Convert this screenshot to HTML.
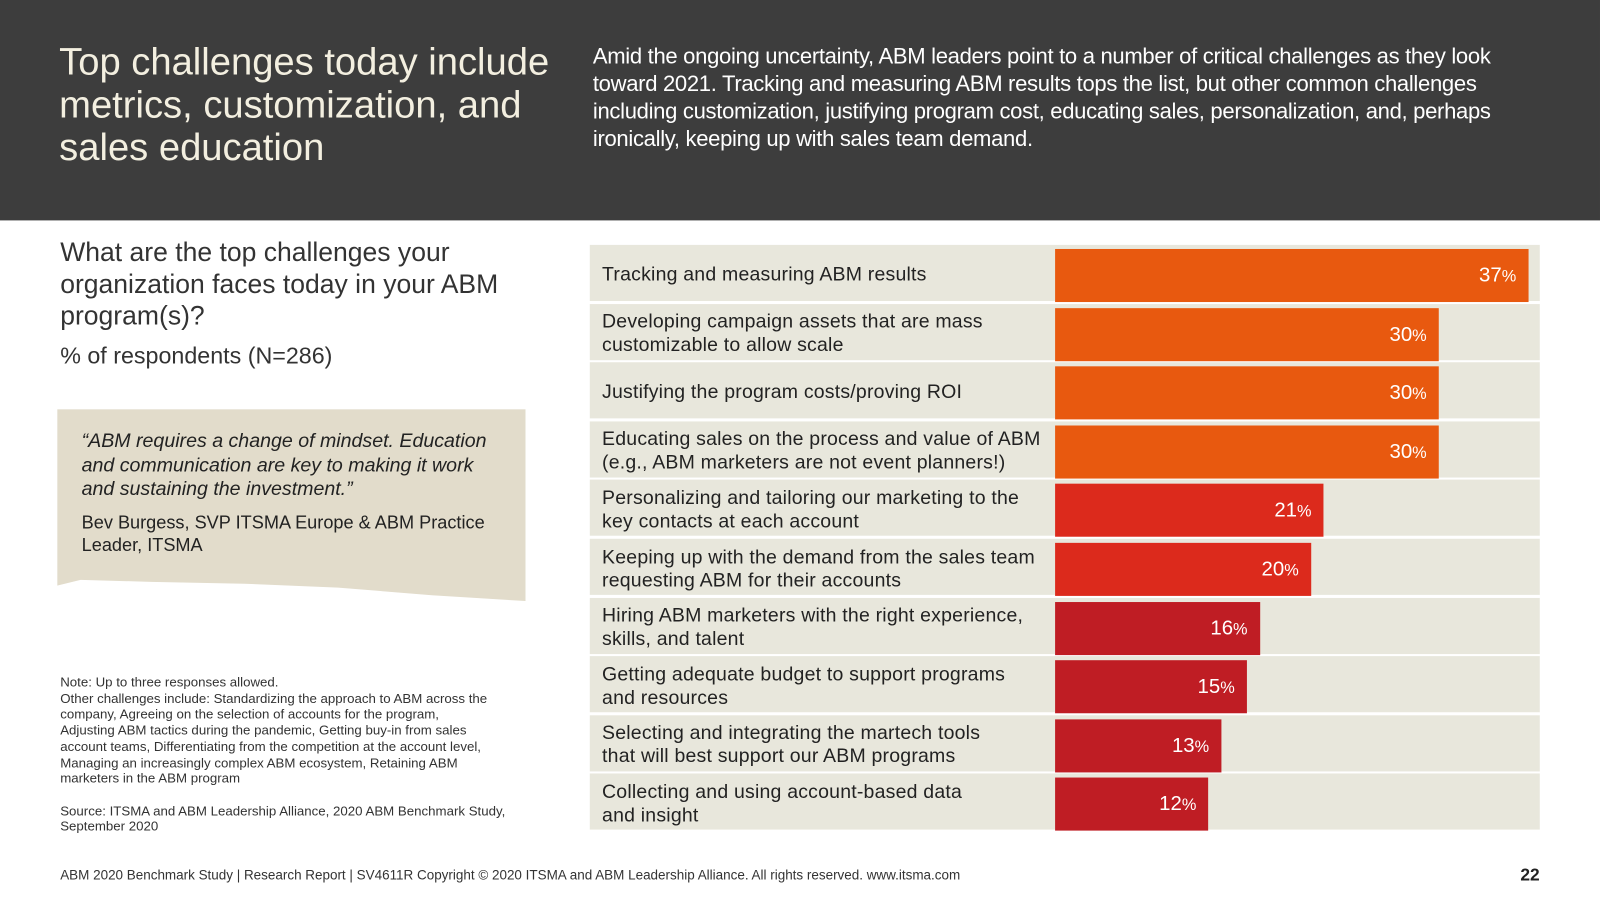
<!DOCTYPE html>
<html><head><meta charset="utf-8"><style>
body{margin:0;width:1600px;height:900px;background:#fff;font-family:"Liberation Sans",sans-serif;position:relative;overflow:hidden}
#wrap{position:absolute;left:0;top:0;width:1568px;height:882px;transform:scale(1.0204);transform-origin:0 0}
#wrap div{position:absolute}
#hdr{left:0;top:0;width:1568px;height:216px;background:#3d3d3d}
.t{color:#f3efe0}
.row{left:578px;width:931px;height:55px;background:#e8e7dc}
#wrap .lab{left:12px;top:2px;height:55px;width:440px;display:flex;align-items:center;font-size:19.1px;color:#222;line-height:23px;letter-spacing:.2px;white-space:pre-line}
.bar{height:52px;top:4px}
#wrap .val{right:12px;top:0;height:52px;line-height:52px;color:#fff;font-size:20px}
.val small{font-size:16px}
</style></head><body>
<div id="wrap">
<div id="hdr"></div>
<div class="t" style="left:58px;top:39px;font-size:37.4px;line-height:42px;width:500px">Top challenges today include metrics, customization, and sales education</div>
<div class="t" style="left:581px;top:41px;font-size:21.6px;line-height:27px;width:900px;color:#fff;letter-spacing:-.3px">Amid the ongoing uncertainty, ABM leaders point to a number of critical challenges as they look toward 2021. Tracking and measuring ABM results tops the list, but other common challenges including customization, justifying program cost, educating sales, personalization, and, perhaps ironically, keeping up with sales team demand.</div>
<div style="left:59px;top:232px;font-size:26px;line-height:31px;width:470px;color:#333">What are the top challenges your organization faces today in your ABM program(s)?</div>
<div style="left:59px;top:335px;font-size:22.8px;color:#333">% of respondents (N=286)</div>
<div style="left:56px;top:401px;width:459px;height:188px;background:#e2dccb;clip-path:polygon(0 0,100% 0,100% 100%,80% 97%,60% 93%,40% 91%,20% 90%,5% 89%,0 92%)"></div>
<div style="left:80px;top:421px;width:420px;font-size:19.2px;line-height:23.5px;font-style:italic;color:#222">“ABM requires a change of mindset. Education and communication are key to making it work and sustaining the investment.”</div>
<div style="left:80px;top:501px;width:420px;font-size:17.8px;line-height:22px;color:#222">Bev Burgess, SVP ITSMA Europe &amp; ABM Practice Leader, ITSMA</div>
<div style="left:59px;top:661px;width:420px;font-size:13px;line-height:15.7px;color:#333">Note: Up to three responses allowed.<br>Other challenges include: Standardizing the approach to ABM across the company, Agreeing on the selection of accounts for the program, Adjusting ABM tactics during the pandemic, Getting buy-in from sales account teams, Differentiating from the competition at the account level, Managing an increasingly complex ABM ecosystem, Retaining ABM marketers in the ABM program<br><br><span style="white-space:nowrap">Source: ITSMA and ABM Leadership Alliance, 2020 ABM Benchmark Study,</span><br>September 2020</div>
<div style="left:59px;top:850px;font-size:13.2px;color:#333;white-space:nowrap">ABM 2020 Benchmark Study | Research Report | SV4611R Copyright © 2020 ITSMA and ABM Leadership Alliance. All rights reserved. www.itsma.com</div>
<div style="left:1490px;top:848px;font-size:17px;font-weight:bold;color:#222">22</div>
<div id="chart" style="left:0;top:0"></div>
</div>
<script>
const categories=["Tracking and measuring ABM results","Developing campaign assets that are mass\ncustomizable to allow scale","Justifying the program costs/proving ROI","Educating sales on the process and value of ABM\n(e.g., ABM marketers are not event planners!)","Personalizing and tailoring our marketing to the\nkey contacts at each account","Keeping up with the demand from the sales team\nrequesting ABM for their accounts","Hiring ABM marketers with the right experience,\nskills, and talent","Getting adequate budget to support programs\nand resources","Selecting and integrating the martech tools\nthat will best support our ABM programs","Collecting and using account-based data\nand insight"];
const values=[37,30,30,30,21,20,16,15,13,12];
const chart=document.getElementById('chart');
const x=v=>v*12.54, y=i=>240+i*57.6;
const color=v=>v>=25?'#e8590f':(v>=18?'#dc2a1c':'#bf1d24');
categories.forEach((c,i)=>{
  const r=document.createElement('div');r.className='row';r.style.top=y(i)+'px';
  
  
  const l=document.createElement('div');l.className='lab';l.textContent=c;
  
  
  const b=document.createElement('div');b.className='bar';b.style.left='456px';b.style.width=x(values[i])+'px';b.style.background=color(values[i]);
  
  
  const v=document.createElement('div');v.className='val';v.innerHTML=values[i]+'<small>%</small>';
  
  
  b.appendChild(v);r.appendChild(l);r.appendChild(b);chart.appendChild(r);
});
</script>
</body></html>
